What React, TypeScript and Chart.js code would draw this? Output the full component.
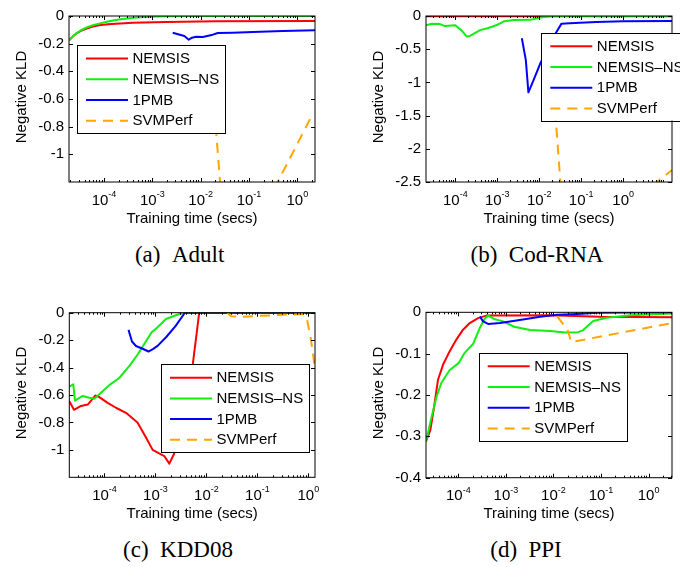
import React, { useEffect, useRef } from 'react';
import { Chart, registerables } from 'chart.js';

Chart.register(...registerables);

// ---------------- data ----------------
const SERIES_NAMES = ['NEMSIS', 'NEMSIS\u2013NS', '1PMB', 'SVMPerf'];
const SERIES_COLORS = ['#ff0000', '#11ee11', '#0000ff', '#ffa500'];

const X_TICKS = [1e-4, 1e-3, 1e-2, 1e-1, 1];
const Y_TICKS_ADULT = [0, -0.2, -0.4, -0.6, -0.8, -1];
const Y_TICKS_COD = [0, -0.5, -1, -1.5, -2, -2.5];
const Y_TICKS_KDD = [0, -0.2, -0.4, -0.6, -0.8, -1];
const Y_TICKS_PPI = [0, -0.1, -0.2, -0.3, -0.4];

// (a) Adult
const adultNemsisT = [1.89e-5, 2.23e-5, 2.64e-5, 3.34e-5, 4.25e-5, 5.65e-5, 7.88e-5, 1.21e-4, 1.77e-4, 3.92e-4, 1.92e-3, 2.07e-2, 2.32];
const adultNemsisV = [-0.176, -0.150, -0.128, -0.108, -0.092, -0.078, -0.067, -0.060, -0.056, -0.049, -0.043, -0.038, -0.036];
const adultNsT = [1.89e-5, 2.23e-5, 2.64e-5, 3.34e-5, 4.25e-5, 5.65e-5, 7.88e-5, 1.21e-4, 1.86e-4, 3.98e-4, 8.95e-4, 2.01e-3, 9.7e-3, 2.32];
const adultNsV = [-0.176, -0.150, -0.128, -0.103, -0.085, -0.069, -0.055, -0.040, -0.027, -0.012, -0.005, -0.001, 0, 0];
const adult1pmbT = [2.64e-3, 4.6e-3, 5.68e-3, 6.64e-3, 8.04e-3, 1.107e-2, 1.78e-2, 2.26e-2, 4.62e-2, 0.12, 0.5, 2.32];
const adult1pmbV = [-0.121, -0.145, -0.171, -0.157, -0.150, -0.152, -0.135, -0.123, -0.121, -0.116, -0.108, -0.103];
const adultSvmT = [0.018, 0.0363, 2.0];
const adultSvmV = [-0.55, -1.9, -0.72];

// (b) Cod-RNA
const codNemsisT = [2.0e-5, 1e-3, 1e-2, 14.6];
const codNemsisV = [-0.005, -0.004, -0.003, -0.003];
const codNsT = [2.0e-5, 2.74e-5, 4.32e-5, 5.68e-5, 1.0e-4, 1.42e-4, 1.87e-4, 2.24e-4, 3.89e-4, 6.14e-4, 9.72e-4, 1.4e-3, 2.42e-3, 6.07e-3, 1.05e-2, 1.82e-2, 3.16e-2, 14.6];
const codNsV = [-0.14, -0.118, -0.122, -0.152, -0.14, -0.22, -0.31, -0.30, -0.213, -0.181, -0.136, -0.083, -0.06, -0.058, -0.022, -0.003, 0, 0];
const cod1pmbT = [3.85e-3, 4.79e-3, 5.52e-3, 7.28e-3, 1.05e-2, 2.57e-2, 3.39e-2, 5.37e-2, 9.31e-2, 0.232, 1.0, 14.6];
const cod1pmbV = [-0.335, -0.665, -1.15, -0.97, -0.72, -0.24, -0.115, -0.108, -0.10, -0.09, -0.08, -0.075];
const codSvmT = [0.0224, 0.0426, 14.6];
const codSvmV = [-1.17, -3.59, -2.32];

// (c) KDD08
const kddNemsisT = [2.04e-5, 2.52e-5, 3.46e-5, 4.69e-5, 6.6e-5, 7.91e-5, 1.156e-4, 1.68e-4, 2.64e-4, 4.44e-4, 6.52e-4, 8.81e-4, 1.49e-3, 1.87e-3, 2.31e-3, 5.43e-3, 7.22e-3, 1.35];
const kddNemsisV = [-0.645, -0.708, -0.68, -0.67, -0.604, -0.615, -0.657, -0.693, -0.73, -0.80, -0.91, -1.0, -1.045, -1.1, -1.03, -0.37, 0, 0];
const kddNsT = [2.04e-5, 2.44e-5, 2.64e-5, 3.74e-5, 5.04e-5, 6.31e-5, 7.91e-5, 1.24e-4, 1.95e-4, 3.06e-4, 4.48e-4, 6.52e-4, 8.53e-4, 1.1e-3, 1.61e-3, 2.52e-3, 3.62e-3, 1.35];
const kddNsV = [-0.54, -0.522, -0.641, -0.607, -0.62, -0.628, -0.595, -0.528, -0.476, -0.39, -0.305, -0.208, -0.14, -0.106, -0.046, -0.019, 0, 0];
const kdd1pmbT = [2.96e-4, 3.46e-4, 4.15e-4, 5.61e-4, 7.29e-4, 9.06e-4, 1.1e-3, 1.63e-3, 2.47e-3, 3.78e-3, 1.35];
const kdd1pmbV = [-0.125, -0.21, -0.243, -0.263, -0.283, -0.264, -0.242, -0.177, -0.098, 0, 0];
const kddSvmT = [2.58e-2, 3.02e-2, 4.54e-2, 0.316, 0.817, 0.935, 1.12, 1.35];
const kddSvmV = [0, -0.025, -0.03, -0.015, -0.01, -0.045, -0.19, -0.41];

// (d) PPI
const ppiNemsisT = [2.09e-5, 2.58e-5, 3.08e-5, 3.74e-5, 4.76e-5, 6.59e-5, 9.08e-5, 1.256e-4, 1.74e-4, 2.6e-4, 3.88e-4, 8.53e-3, 9.62e-2, 3.11];
const ppiNemsisV = [-0.312, -0.285, -0.23, -0.163, -0.127, -0.094, -0.066, -0.042, -0.026, -0.014, -0.008, -0.007, -0.011, -0.012];
const ppiNsT = [2.1e-5, 2.7e-5, 3.48e-5, 4.38e-5, 6.53e-5, 1.01e-4, 1.36e-4, 2.06e-4, 2.82e-4, 3.56e-4, 4.26e-4, 5.65e-4, 8.73e-4, 1.49e-3, 3.23e-3, 8.53e-3, 1.76e-2, 3.31e-2, 4.22e-2, 6.85e-2, 0.132, 0.412, 3.11];
const ppiNsV = [-0.312, -0.256, -0.204, -0.171, -0.14, -0.123, -0.098, -0.076, -0.038, -0.016, -0.008, -0.016, -0.022, -0.035, -0.043, -0.045, -0.049, -0.048, -0.043, -0.021, -0.013, -0.007, -0.003];
const ppi1pmbT = [2.84e-4, 3.31e-4, 4.22e-4, 7.55e-4, 1.81e-3, 5.25e-3, 1.2e-2, 3.16e-2, 8.32e-2, 3.11];
const ppi1pmbV = [-0.01, -0.022, -0.028, -0.026, -0.019, -0.011, -0.006, -0.004, -0.001, 0];
const ppiSvmT = [1.2e-2, 1.64e-2, 2.04e-2, 2.36e-2, 3.11];
const ppiSvmV = [-0.01, -0.03, -0.046, -0.072, -0.026];

// ---------------- layout / style ----------------
const FONT = "'Liberation Sans', Arial, Helvetica, sans-serif";
const SERIF = "'Liberation Serif', 'Times New Roman', Times, serif";
const Y_AXIS_W = 60;
const LINE_W = 2;

type PanelCfg = {
  caption: string;
  capX: number;
  capBase: number;
  left: number;
  top: number;
  pad: { left: number; top: number; right: number; bottom: number };
  xMin: number;
  xMax: number;
  yMin: number;
  yMax: number;
  yTicks: number[];
  series: [number[], number[]][];
  legend: { dx: number; dy: number };
};

const PANELS: PanelCfg[] = [
  {
    caption: '(a)\u00a0\u00a0Adult', capX: 179.6, capBase: 262,
    left: 0, top: 0, pad: { left: 9, top: 16, right: 25, bottom: 58 },
    xMin: 1.89e-5, xMax: 2.32, yMin: -1.2, yMax: 0, yTicks: Y_TICKS_ADULT,
    series: [[adultNemsisT, adultNemsisV], [adultNsT, adultNsV], [adult1pmbT, adult1pmbV], [adultSvmT, adultSvmV]],
    legend: { dx: 8, dy: 29.3 },
  },
  {
    caption: '(b)\u00a0\u00a0Cod-RNA', capX: 537, capBase: 262,
    left: 340, top: 0, pad: { left: 26, top: 16, right: 8, bottom: 58 },
    xMin: 2.0e-5, xMax: 14.6, yMin: -2.5, yMax: 0, yTicks: Y_TICKS_COD,
    series: [[codNemsisT, codNemsisV], [codNsT, codNsV], [cod1pmbT, cod1pmbV], [codSvmT, codSvmV]],
    legend: { dx: 115.3, dy: 17 },
  },
  {
    caption: '(c)\u00a0\u00a0KDD08', capX: 178, capBase: 557,
    left: 0, top: 290, pad: { left: 9.3, top: 22.7, right: 25, bottom: 52.7 },
    xMin: 2.04e-5, xMax: 1.35, yMin: -1.2, yMax: 0, yTicks: Y_TICKS_KDD,
    series: [[kddNemsisT, kddNemsisV], [kddNsT, kddNsV], [kdd1pmbT, kdd1pmbV], [kddSvmT, kddSvmV]],
    legend: { dx: 91.7, dy: 51.7 },
  },
  {
    caption: '(d)\u00a0\u00a0PPI', capX: 526, capBase: 557,
    left: 340, top: 290, pad: { left: 26, top: 22.3, right: 8, bottom: 52.3 },
    xMin: 2.09e-5, xMax: 3.11, yMin: -0.4, yMax: 0, yTicks: Y_TICKS_PPI,
    series: [[ppiNemsisT, ppiNemsisV], [ppiNsT, ppiNsV], [ppi1pmbT, ppi1pmbV], [ppiSvmT, ppiSvmV]],
    legend: { dx: 52.7, dy: 40.7 },
  },
];

const fmtY = (v: number) => (v === 0 ? '0' : '-' + String(Math.abs(v)));

function makeFramePlugin(cfg: PanelCfg) {
  return {
    id: 'matlabFrame',
    afterDraw(chart: any) {
      const ctx: CanvasRenderingContext2D = chart.ctx;
      const { left, right, top, bottom } = chart.chartArea;
      const xs = chart.scales.x;
      const ys = chart.scales.y;
      ctx.save();
      ctx.strokeStyle = '#000';
      ctx.fillStyle = '#000';
      ctx.lineWidth = 1;
      ctx.setLineDash([]);

      // ticks
      ctx.beginPath();
      const vline = (px: number, len: number) => {
        const x = Math.round(px) + 0.5;
        ctx.moveTo(x, bottom);
        ctx.lineTo(x, bottom - len);
        ctx.moveTo(x, top);
        ctx.lineTo(x, top + len);
      };
      X_TICKS.forEach((v) => {
        if (v >= cfg.xMin && v <= cfg.xMax) vline(xs.getPixelForValue(v), 4);
      });
      const e0 = Math.floor(Math.log10(cfg.xMin));
      const e1 = Math.ceil(Math.log10(cfg.xMax));
      for (let e = e0; e <= e1; e++) {
        for (let k = 2; k <= 9; k++) {
          const v = k * Math.pow(10, e);
          if (v > cfg.xMin && v < cfg.xMax) vline(xs.getPixelForValue(v), 2);
        }
      }
      cfg.yTicks.forEach((v) => {
        const y = Math.round(ys.getPixelForValue(v)) + 0.5;
        ctx.moveTo(left, y);
        ctx.lineTo(left + 4, y);
        ctx.moveTo(right, y);
        ctx.lineTo(right - 4, y);
      });
      ctx.stroke();

      // frame
      ctx.strokeRect(left, top, right - left, bottom - top);

      // x tick labels 10^k
      ctx.textBaseline = 'alphabetic';
      ctx.textAlign = 'left';
      X_TICKS.forEach((v) => {
        if (v < cfg.xMin || v > cfg.xMax) return;
        const px = xs.getPixelForValue(v);
        const ex = Math.round(Math.log10(v));
        const expStr = ex < 0 ? '-' + Math.abs(ex) : String(ex);
        ctx.font = `15px ${FONT}`;
        const wb = ctx.measureText('10').width;
        ctx.font = `9px ${FONT}`;
        const we = ctx.measureText(expStr).width;
        const x0 = px - (wb + we) / 2;
        ctx.font = `15px ${FONT}`;
        ctx.fillText('10', x0, bottom + 22.5);
        ctx.font = `9px ${FONT}`;
        ctx.fillText(expStr, x0 + wb, bottom + 15);
      });

      // axis titles
      ctx.font = `15px ${FONT}`;
      ctx.textAlign = 'center';
      ctx.fillText('Training time (secs)', (left + right) / 2, bottom + 40.5);
      ctx.save();
      ctx.translate(left - 43, (top + bottom) / 2 - 2);
      ctx.rotate(-Math.PI / 2);
      ctx.fillText('Negative KLD', 0, 0);
      ctx.restore();

      // legend box
      const lx = left + cfg.legend.dx;
      const ly = top + cfg.legend.dy;
      ctx.font = `15px ${FONT}`;
      let tw = 0;
      SERIES_NAMES.forEach((n) => (tw = Math.max(tw, ctx.measureText(n).width)));
      const w = 9 + 42 + 5 + tw + 5;
      const h = 87.5;
      ctx.fillStyle = '#fff';
      ctx.fillRect(lx, ly, w, h);
      ctx.strokeStyle = '#000';
      ctx.lineWidth = 1;
      ctx.strokeRect(Math.round(lx) + 0.5, Math.round(ly) + 0.5, Math.round(w), Math.round(h));
      SERIES_NAMES.forEach((n, i) => {
        const ry = ly + 13.3 + i * 20.7;
        ctx.beginPath();
        ctx.strokeStyle = SERIES_COLORS[i];
        ctx.lineWidth = LINE_W;
        ctx.setLineDash(i === 3 ? [10, 7] : []);
        ctx.moveTo(lx + 9, ry);
        ctx.lineTo(lx + 51, ry);
        ctx.stroke();
        ctx.setLineDash([]);
        ctx.fillStyle = '#000';
        ctx.textAlign = 'left';
        ctx.textBaseline = 'middle';
        ctx.fillText(n, lx + 55.5, ry + 0.5);
      });
      ctx.restore();
    },
  };
}

function Panel({ cfg }: { cfg: PanelCfg }) {
  const ref = useRef<HTMLCanvasElement | null>(null);
  useEffect(() => {
    if (!ref.current) return;
    const chart = new Chart(ref.current, {
      type: 'line',
      data: {
        datasets: cfg.series.map(([ts, vs], i) => ({
          label: SERIES_NAMES[i],
          data: ts.map((t, j) => ({ x: t, y: vs[j] })),
          borderColor: SERIES_COLORS[i],
          backgroundColor: SERIES_COLORS[i],
          borderWidth: LINE_W,
          borderDash: i === 3 ? [10, 7] : [],
          borderJoinStyle: 'round',
          pointRadius: 0,
          pointHoverRadius: 0,
          fill: false,
          tension: 0,
          order: 3 - i,
        })),
      },
      options: {
        animation: false,
        responsive: false,
        maintainAspectRatio: false,
        events: [],
        layout: { padding: cfg.pad },
        plugins: { legend: { display: false }, tooltip: { enabled: false }, title: { display: false } },
        scales: {
          x: {
            type: 'logarithmic',
            min: cfg.xMin,
            max: cfg.xMax,
            grid: { display: false, drawTicks: false },
            border: { display: false },
            ticks: { display: false },
            afterBuildTicks: (s: any) => {
              s.ticks = X_TICKS.map((v) => ({ value: v }));
            },
            afterFit: (s: any) => {
              s.height = 0;
            },
          },
          y: {
            type: 'linear',
            min: cfg.yMin,
            max: cfg.yMax,
            grid: { display: false, drawTicks: false },
            border: { display: false },
            ticks: {
              autoSkip: false,
              padding: 5,
              color: '#000',
              font: { family: FONT, size: 15 },
              callback: (v: any) => fmtY(Number(v)),
            },
            afterBuildTicks: (s: any) => {
              s.ticks = cfg.yTicks.map((v) => ({ value: v }));
            },
            afterFit: (s: any) => {
              s.width = Y_AXIS_W;
            },
          },
        },
      } as any,
      plugins: [makeFramePlugin(cfg)],
    });
    return () => chart.destroy();
  }, [cfg]);
  return (
    <canvas
      ref={ref}
      width={340}
      height={240}
      style={{ position: 'absolute', left: cfg.left, top: cfg.top, width: 340, height: 240 }}
    />
  );
}

export default function App() {
  return (
    <div style={{ position: 'absolute', left: 0, top: 0, width: 680, height: 567, background: '#fff', overflow: 'hidden' }}>
      {PANELS.map((p, i) => (
        <Panel key={i} cfg={p} />
      ))}
      {PANELS.map((p, i) => (
        <div
          key={'c' + i}
          style={{
            position: 'absolute',
            left: p.capX - 120,
            width: 240,
            top: p.capBase - 19.3,
            textAlign: 'center',
            fontFamily: SERIF,
            fontSize: 23,
            lineHeight: '23px',
            color: '#000',
            whiteSpace: 'pre',
          }}
        >
          {p.caption}
        </div>
      ))}
    </div>
  );
}
